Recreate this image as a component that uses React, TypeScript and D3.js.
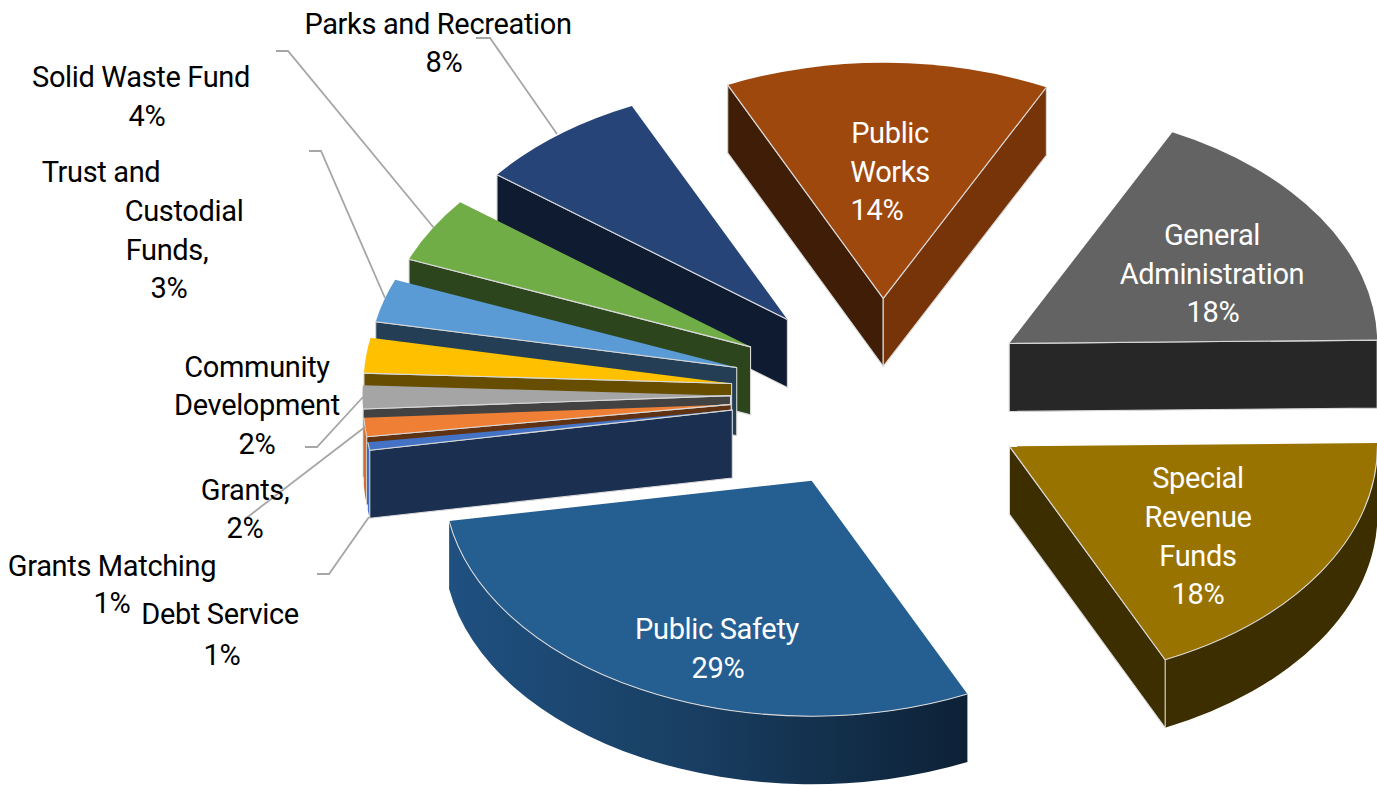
import React from 'react'
import * as d3 from 'd3'

const categories = ['Public Works', 'General Administration', 'Special Revenue Funds', 'Public Safety', 'Debt Service', 'Grants Matching', 'Community Development', 'Grants', 'Trust and Custodial Funds', 'Solid Waste Fund', 'Parks and Recreation']
const shares = [14.2, 17.4, 18.2, 29.1, 0.55, 1.28, 1.6, 2.4, 2.95, 4.44, 7.5]
const topColors = ['#9E480E', '#636363', '#997300', '#255E91', '#4472C4', '#EF7F34', '#A5A5A5', '#FFC000', '#5B9BD5', '#70AD47', '#264478']
const startFaceColors = ['#3F1D06', '#272727', '#3D2E00', '#1B3A57', '#1B2F51', '#5F3214', '#424242', '#664D00', '#243E55', '#2D451C', '#0F1B30']
const endFaceColors = ['#783409', '#272727', '#3D2E00', '#0E2137', '#1B2F51', '#5F3214', '#424242', '#664D00', '#243E55', '#2D451C', '#0F1B30']
const wallColors = ['#3F1D06', '#272727', '#3D2E00', 'url(#safetyWall)', '#4472C4', '#D0702E', null, null, null, null, null]

// text placement per category: wrapped name lines, then the percent
const labelLines = [
  [['Public', 890, 143], ['Works', 890, 182], ['14%', 877, 220]],
  [['General', 1212, 245], ['Administration', 1212, 284], ['18%', 1213, 322]],
  [['Special', 1198, 488], ['Revenue', 1198, 527], ['Funds', 1198, 566], ['18%', 1198, 604]],
  [['Public Safety', 717, 639], ['29%', 718, 678]],
  [['Debt Service', 220, 624], ['1%', 222, 665]],
  [['Grants Matching', 112, 576], ['1%', 112, 613]],
  [['Community', 257, 377], ['Development', 257, 415], ['2%', 257, 454]],
  [['Grants,', 245, 500], ['2%', 245, 538]],
  [['Trust and', 101, 182], ['Custodial', 184, 221], ['Funds,', 167, 260], ['3%', 169, 298]],
  [['Solid Waste Fund', 141, 87], ['4%', 147, 126]],
  [['Parks and Recreation', 438, 34], ['8%', 444, 72]],
] as [string, number, number][][]

const leaders: [number, number][][] = [
  [[476, 38], [490, 38], [557, 134]],
  [[276, 51], [288, 51], [434, 228]],
  [[309, 151], [321, 151], [385, 298]],
  [[305, 447], [317, 447], [363, 397]],
  [[245, 519], [365, 427]],
  [[317, 574], [329, 574], [369, 517]],
]

const width = 1377
const height = 785
const cx = 881.5
const cy = 395
const rx = 368
const squash = 0.64
const ry = rx * squash
const explode = 151
const depth = 68
const edge = '#D9D9D9'

const rad = (deg: number) => (deg * Math.PI) / 180
const pie = d3.pie<number>().sort(null).startAngle(rad(-25)).endAngle(rad(335))
const arc = d3.arc<d3.PieArcDatum<number>>().innerRadius(0).outerRadius(rx)
const line = d3.line()

export default function App() {
  const slices = pie(shares).map((d, i) => {
    const mid = (d.startAngle + d.endAngle) / 2
    return { d, i, ax: cx + explode * Math.sin(mid), ay: cy - explode * squash * Math.cos(mid) }
  })
  // back slices first, so nearer ones paint over them
  const ordered = [...slices].sort((a, b) => a.ay - b.ay)

  return (
    <svg
      width={width}
      height={height}
      style={{ position: 'absolute', left: 0, top: 0, background: '#fff' }}
      fontFamily="Roboto, sans-serif"
      fontSize={29}
      letterSpacing={-0.35}
    >
      <defs>
        <linearGradient id="safetyWall" gradientUnits="userSpaceOnUse" x1={450} x2={968} y1={0} y2={0}>
          <stop offset="0%" stopColor="#1F5080" />
          <stop offset="45%" stopColor="#193F63" />
          <stop offset="100%" stopColor="#0D2136" />
        </linearGradient>
      </defs>
      {ordered.map(({ d, i, ax, ay }) => {
        const pt = (a: number, dy = 0): [number, number] => [ax + rx * Math.sin(a), ay - ry * Math.cos(a) + dy]
        const face = (a: number) =>
          line([[ax, ay], pt(a), pt(a, depth), [ax, ay + depth]]) + 'Z'
        const showStart = Math.sin(d.startAngle) < 0
        const showEnd = Math.sin(d.endAngle) > 0
        const w0 = Math.max(d.startAngle, rad(90))
        const w1 = Math.min(d.endAngle, rad(270))
        let wall: string | null = null
        let rim: string | null = null
        if (w1 > w0 && wallColors[i]) {
          const p0 = pt(w0)
          const p1 = pt(w1)
          const q0 = pt(w0, depth)
          const q1 = pt(w1, depth)
          rim = `M${p0}A${rx},${ry} 0 0 1 ${p1}`
          wall = `${rim}L${q1}A${rx},${ry} 0 0 0 ${q0}Z`
        }
        return (
          <g key={categories[i]} stroke={edge} strokeWidth={1.1} strokeLinejoin="round">
            {wall && <path d={wall} fill={wallColors[i] as string} stroke="none" />}
            {showStart && <path d={face(d.startAngle)} fill={startFaceColors[i]} />}
            {showEnd && <path d={face(d.endAngle)} fill={endFaceColors[i]} />}
            <path
              d={arc(d) as string}
              transform={`translate(${ax},${ay}) scale(1,${squash})`}
              fill={topColors[i]}
              stroke="none"
            />
            {/* light edges only where the top meets a visible side */}
            {showStart && <path d={line([[ax, ay], pt(d.startAngle)]) as string} fill="none" />}
            {showEnd && <path d={line([[ax, ay], pt(d.endAngle)]) as string} fill="none" />}
            {rim && <path d={rim} fill="none" />}
          </g>
        )
      })}
      {leaders.map((pts, i) => (
        <path key={i} d={line(pts) as string} fill="none" stroke="#A6A6A6" strokeWidth={1.8} />
      ))}
      {labelLines.map((lines, i) =>
        lines.map(([text, x, y]) => (
          <text key={`${i}-${text}-${y}`} x={x} y={y} textAnchor="middle" fill={i < 4 ? '#fff' : '#000'}>
            {text}
          </text>
        )),
      )}
    </svg>
  )
}
